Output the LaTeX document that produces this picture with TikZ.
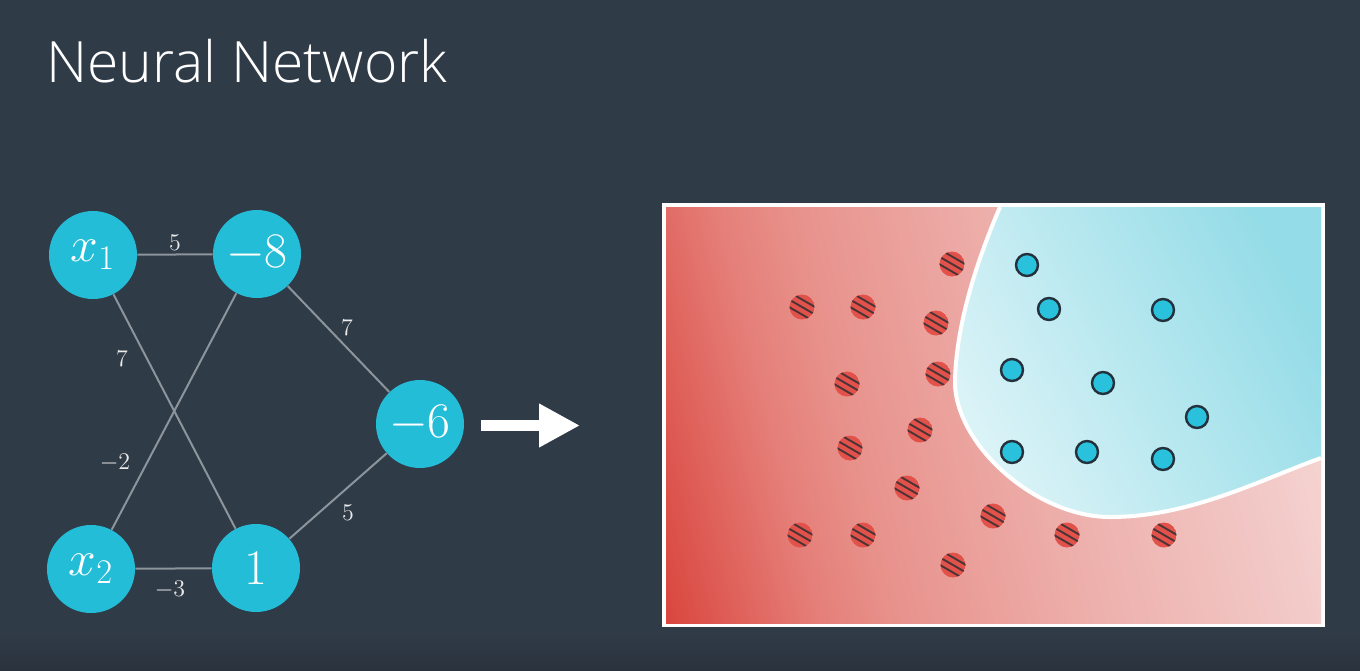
\documentclass[tikz,border=0pt]{standalone}
\usepackage{fontspec}
\newfontfamily\titlefont{Open Sans Light}
\usetikzlibrary{arrows.meta}

\definecolor{bg}{HTML}{303B48}
\definecolor{bgdark}{HTML}{2A333D}
\definecolor{neuron}{HTML}{24BDD8}
\definecolor{wire}{HTML}{8C949C}
% red field stops, dark corner to pale corner
\definecolor{rA}{HTML}{D9463E}
\definecolor{rB}{HTML}{E57E78}
\definecolor{rC}{HTML}{E8918B}
\definecolor{rD}{HTML}{EDAEAA}
\definecolor{rE}{HTML}{F1C6C4}
\definecolor{rF}{HTML}{F7DCDA}
\definecolor{blueA}{HTML}{DAF3F7}
\definecolor{blueB}{HTML}{94DCE7}
\definecolor{redpt}{HTML}{E2524B}
\definecolor{stripe}{HTML}{4B3436}
\definecolor{bluept}{HTML}{29C1DC}
\definecolor{ring}{HTML}{24303B}

% the box corners land at 19.6bp and 80.4bp for a 14 degree angle
\pgfdeclarehorizontalshading{redfield}{100bp}{%
  color(0bp)=(rA); color(19.6bp)=(rA); color(31.8bp)=(rB); color(37.8bp)=(rC);
  color(53bp)=(rD); color(68.2bp)=(rE); color(80.4bp)=(rF); color(100bp)=(rF)}

% hatched red sample point
\newcommand\redpoint[2]{%
  \begin{scope}[shift={(#1,#2)}]
    \clip (0,0) circle[radius=12.5];
    \fill[redpt] (0,0) circle[radius=12.5];
    \foreach \o in {-6.5,0,6.5}
      \draw[stripe, line width=0.95pt]
        ({-17.3-0.5*\o},{-10+0.866*\o}) -- ({17.3-0.5*\o},{10+0.866*\o});
  \end{scope}}
% blue sample point
\newcommand\bluepoint[2]{%
  \fill[bluept, draw=ring, line width=1.2pt] (#1,#2) circle[radius=11];}

\begin{document}
\begin{tikzpicture}[x=0.5pt,y=-0.5pt,
  neuronnode/.style={circle, fill=neuron, minimum size=44pt, inner sep=0pt,
    text=white, font=\fontsize{24}{24}\selectfont},
  weight/.style={text=white!92!black, font=\fontsize{12}{12}\selectfont, inner sep=1pt},
  link/.style={draw=wire, line width=1pt}]

% background
\fill[bg] (0,0) rectangle (1360,670);
\useasboundingbox (0,0) rectangle (1360,670);
\shade[top color=bg, bottom color=bgdark] (0,630) rectangle (1360,670);

% title
\node[anchor=base west, text=white, inner sep=0pt,
  font=\titlefont\fontsize{28.5}{28.5}\selectfont] (title) at (46,82) {Neural Network};

% network
\node[neuronnode] (x1) at (93,255) {$x_1$};
\node[neuronnode] (h1) at (257,254) {$-8$};
\node[neuronnode] (x2) at (91,569) {$x_2$};
\node[neuronnode] (h2) at (256,568) {$1$};
\node[neuronnode] (out) at (420,424) {$-6$};

\path[link] (x1) -- (h1);
\path[link] (x1) -- (h2);
\path[link] (x2) -- (h1);
\path[link] (x2) -- (h2);
\path[link] (h1) -- (out);
\path[link] (h2) -- (out);

\node[weight] (w11) at (175,243) {$5$};
\node[weight] (w12) at (122,359) {$7$};
\node[weight] (w21) at (115,463) {$-2$};
\node[weight] (w22) at (170,590) {$-3$};
\node[weight] (v1) at (347,328) {$7$};
\node[weight] (v2) at (348,513) {$5$};

% arrow to the decision plot
\coordinate (arrS) at (481,425.5);
\coordinate (arrE) at (580,425.5);
\draw[white, line width=5.5pt, -{Triangle[length=20.5pt,width=20.5pt]}] (arrS) -- (arrE);

% decision plot panel
\fill[white] (662,203) rectangle (1325,627);
\shade[shading=redfield, shading angle=14] (666,207) rectangle (1321,623);
\shade[left color=blueA, right color=blueB, shading angle=118]
  (1000,207) .. controls (975,265) and (955,330) .. (955,385)
  .. controls (958,448) and (1038,517) .. (1110,517)
  .. controls (1190,517) and (1260,480) .. (1321,458)
  -- (1321,207) -- cycle;
\draw[white, line width=2pt]
  (1000,207) .. controls (975,265) and (955,330) .. (955,385)
  .. controls (958,448) and (1038,517) .. (1110,517)
  .. controls (1190,517) and (1260,480) .. (1321,458);

% red class
\redpoint{952}{264}
\redpoint{802}{307}
\redpoint{863}{307}
\redpoint{936}{323}
\redpoint{938}{374}
\redpoint{847}{384}
\redpoint{920}{430}
\redpoint{850}{448}
\redpoint{907}{488}
\redpoint{993}{516}
\redpoint{800}{535}
\redpoint{863}{535}
\redpoint{1067}{535}
\redpoint{1164}{535}
\redpoint{953}{565}

% blue class
\bluepoint{1027}{265}
\bluepoint{1049}{309}
\bluepoint{1163}{310}
\bluepoint{1012}{370}
\bluepoint{1103}{383}
\bluepoint{1197}{417}
\bluepoint{1012}{452}
\bluepoint{1087}{452}
\bluepoint{1163}{459}

\end{tikzpicture}
\end{document}
